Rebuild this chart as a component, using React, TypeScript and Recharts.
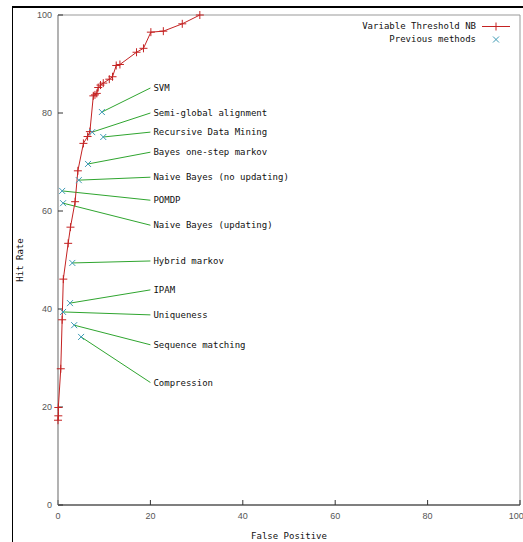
import { ScatterChart, Scatter, XAxis, YAxis, ReferenceArea, ReferenceLine, Legend } from 'recharts';

// Variable Threshold NB curve
const curveX = [0, 0.07, 0.07, 0.6, 0.9, 1.15, 2.2, 2.7, 3.7, 4.3, 5.5, 6.4, 6.9, 7.65, 8.0, 8.4, 8.7, 9.2, 9.8, 11.1, 11.8, 12.6, 13.4, 17.0, 18.5, 20.1, 22.8, 26.9, 30.7];
const curveY = [17.3, 18.2, 19.9, 27.8, 37.8, 46.1, 53.4, 56.7, 61.9, 68.2, 73.8, 75.2, 76.2, 83.5, 83.7, 84.0, 85.2, 85.7, 86.1, 86.9, 87.4, 89.7, 89.9, 92.4, 93.2, 96.5, 96.7, 98.2, 100];

// previous methods
const methodNames = [
  'SVM',
  'Semi-global alignment',
  'Recursive Data Mining',
  'Bayes one-step markov',
  'Naive Bayes (no updating)',
  'POMDP',
  'Naive Bayes (updating)',
  'Hybrid markov',
  'IPAM',
  'Uniqueness',
  'Sequence matching',
  'Compression',
];
const methodX = [9.5, 7.4, 9.8, 6.5, 4.5, 0.9, 1.1, 3.1, 2.6, 1.1, 3.5, 5.0];
const methodY = [80.2, 76.1, 75.1, 69.6, 66.3, 64.1, 61.6, 49.4, 41.2, 39.4, 36.7, 34.3];
const labelX = 20;
const labelY = [85.1, 80.0, 76.1, 72.0, 66.9, 62.2, 57.1, 49.8, 43.9, 38.8, 32.7, 25.0];

const ticks = [0, 20, 40, 60, 80, 100];

const curve = curveX.map((x, i) => ({ x, y: curveY[i] }));
const methods = methodNames.map((name, i) => ({ name, x: methodX[i], y: methodY[i] }));
const labels = methodNames.map((name, i) => ({ name, x: labelX, y: labelY[i] }));

const RED = '#c42222';
const BLUE = '#3e9bb5';
const GREEN = '#2fa52f';
const MONO = '"DejaVu Sans Mono", monospace';

const Plus = (p: any) => (
  <path d={`M${p.cx - 4},${p.cy}h8M${p.cx},${p.cy - 4}v8`} stroke={RED} strokeWidth={1} fill="none" />
);
const Cross = (p: any) => (
  <path d={`M${p.cx - 3},${p.cy - 3}l6,6M${p.cx - 3},${p.cy + 3}l6,-6`} stroke={BLUE} strokeWidth={1} fill="none" />
);
const LabelText = (p: any) => (
  <text x={p.cx + 3} y={p.cy} dy="0.35em" fontFamily={MONO} fontSize={9} fill="#111">
    {p.payload.name}
  </text>
);

const hidden = () => <g />;

const LegendBox = () => (
  <div style={{ fontFamily: MONO, fontSize: 9, color: '#111', lineHeight: '13px' }}>
    <div style={{ display: 'flex', justifyContent: 'flex-end', alignItems: 'center' }}>
      <span>Variable Threshold NB</span>
      <svg width={32} height={13} style={{ marginLeft: 4 }}>
        <line x1={2} y1={6.5} x2={30} y2={6.5} stroke={RED} />
        <path d="M16,2.5v8M12,6.5h8" stroke={RED} fill="none" />
      </svg>
    </div>
    <div style={{ display: 'flex', justifyContent: 'flex-end', alignItems: 'center' }}>
      <span>Previous methods</span>
      <svg width={32} height={13} style={{ marginLeft: 4 }}>
        <path d="M13,3.5l6,6M13,9.5l6,-6" stroke={BLUE} fill="none" />
      </svg>
    </div>
  </div>
);

export default function App() {
  return (
    <div style={{ position: 'absolute', left: 0, top: 0, width: 523, height: 542, background: '#fff', overflow: 'hidden' }}>
      <div
        style={{
          position: 'absolute',
          left: 12,
          top: 6,
          width: 511,
          height: 536,
          borderTop: '2px solid #000',
          borderLeft: '1px solid #000',
          boxSizing: 'border-box',
        }}
      />
      <div style={{ position: 'absolute', left: 0, top: 0 }}>
        <ScatterChart width={523} height={542} margin={{ top: 14, right: 2, left: 12, bottom: 0 }}>
          <XAxis
            xAxisId="b"
            type="number"
            dataKey="x"
            domain={[0, 100]}
            ticks={ticks}
            height={37}
            tickSize={-5}
            tickMargin={13}
            axisLine={{ stroke: '#333' }}
            tickLine={{ stroke: '#333' }}
            tick={{ fontSize: 9, fill: '#555', fontFamily: 'Liberation Sans, sans-serif' }}
            label={{ value: 'False Positive', position: 'insideBottom', offset: 3, style: { fontFamily: MONO, fontSize: 9, fill: '#111' } }}
          />
          <XAxis
            xAxisId="t"
            orientation="top"
            type="number"
            dataKey="x"
            domain={[0, 100]}
            ticks={ticks}
            height={1}
            tickSize={-5}
            axisLine={false}
            tickLine={{ stroke: '#333' }}
            tick={hidden}
          />
          <YAxis
            yAxisId="l"
            type="number"
            dataKey="y"
            domain={[0, 100]}
            ticks={ticks}
            width={46}
            tickSize={-5}
            tickMargin={11}
            axisLine={{ stroke: '#999' }}
            tickLine={{ stroke: '#333' }}
            tick={{ fontSize: 9, fill: '#555', fontFamily: 'Liberation Sans, sans-serif' }}
            label={{ value: 'Hit Rate', angle: -90, position: 'insideLeft', offset: 8, style: { textAnchor: 'middle', fontFamily: MONO, fontSize: 9, fill: '#111' } }}
          />
          <YAxis
            yAxisId="r"
            orientation="right"
            type="number"
            dataKey="y"
            domain={[0, 100]}
            ticks={ticks}
            width={1}
            tickSize={-5}
            axisLine={false}
            tickLine={{ stroke: '#333' }}
            tick={hidden}
          />
          <ReferenceArea xAxisId="b" yAxisId="l" x1={0} x2={100} y1={0} y2={100} fill="none" stroke="#999" strokeWidth={1} />
          {methods.map((m, i) => (
            <ReferenceLine
              key={m.name}
              xAxisId="b"
              yAxisId="l"
              segment={[
                { x: labels[i].x, y: labels[i].y },
                { x: m.x, y: m.y },
              ]}
              stroke={GREEN}
              strokeWidth={1}
              ifOverflow="visible"
            />
          ))}
          <Scatter
            name="Variable Threshold NB"
            xAxisId="b"
            yAxisId="l"
            data={curve}
            line={{ stroke: RED, strokeWidth: 1 }}
            lineType="joint"
            shape={Plus}
            isAnimationActive={false}
          />
          <Scatter
            name="Previous methods"
            xAxisId="b"
            yAxisId="l"
            data={methods}
            shape={Cross}
            isAnimationActive={false}
          />
          <Scatter
            name="labels"
            xAxisId="b"
            yAxisId="l"
            data={labels}
            shape={LabelText}
            legendType="none"
            isAnimationActive={false}
          />
          <Legend
            layout="horizontal"
            verticalAlign="middle"
            align="center"
            content={LegendBox}
            wrapperStyle={{ top: 20, right: 11, left: 'auto', bottom: 'auto', width: 'auto' }}
          />
        </ScatterChart>
      </div>
    </div>
  );
}
